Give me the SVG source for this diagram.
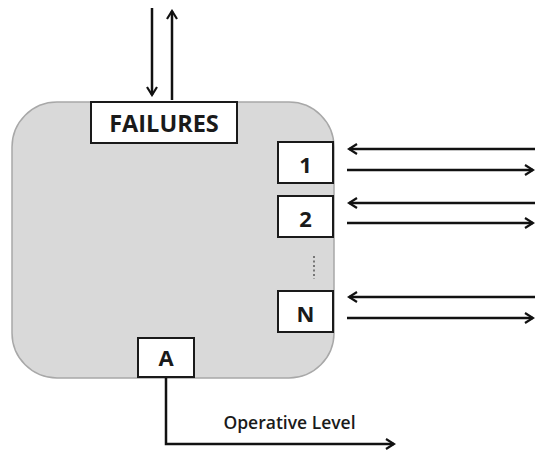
<svg xmlns="http://www.w3.org/2000/svg" width="535" height="454" viewBox="0 0 535 454">
  <style>
    .box { fill: #ffffff; stroke: #1a1a1a; stroke-width: 2; }
    .lbl { font-family: "Open Sans", "Liberation Sans", sans-serif; font-weight: bold; fill: #1a1a1a; text-anchor: middle; }
    .wire { fill: none; stroke: #111111; stroke-width: 2.5; marker-end: url(#head); }
  </style>
  <defs>
    <marker id="head" viewBox="0 0 12 12" refX="10" refY="6" markerWidth="12" markerHeight="12" markerUnits="userSpaceOnUse" orient="auto">
      <polyline points="2,1 10,6 2,11" fill="none" stroke="#111111" stroke-width="2.2"/>
    </marker>
  </defs>

  <rect width="535" height="454" fill="#ffffff"/>

  <g id="system">
    <rect x="12" y="102" width="322" height="276" rx="45" ry="45" fill="#d9d9d9" stroke="#a8a8a8" stroke-width="1.5"/>
  </g>

  <g id="connectors">
    <line class="wire" x1="152" y1="8" x2="152" y2="95"/>
    <line class="wire" x1="172" y1="100" x2="172" y2="11"/>
    <line class="wire" x1="535" y1="149" x2="349" y2="149"/>
    <line class="wire" x1="347" y1="170" x2="533" y2="170"/>
    <line class="wire" x1="535" y1="203" x2="349" y2="203"/>
    <line class="wire" x1="347" y1="223" x2="533" y2="223"/>
    <line class="wire" x1="535" y1="297" x2="349" y2="297"/>
    <line class="wire" x1="347" y1="318" x2="533" y2="318"/>
    <polyline class="wire" points="166,377 166,444 394,444"/>
    <line x1="314" y1="256" x2="314" y2="279" stroke="#555555" stroke-width="1.5" stroke-dasharray="2,2.5"/>
  </g>

  <g id="failures">
    <rect class="box" x="91" y="102" width="146" height="41"/>
    <text class="lbl" x="164" y="132" font-size="23.5">FAILURES</text>
  </g>
  <g id="port-1">
    <rect class="box" x="278" y="142" width="55" height="41"/>
    <text class="lbl" x="305.5" y="173" font-size="22">1</text>
  </g>
  <g id="port-2">
    <rect class="box" x="278" y="196" width="55" height="41"/>
    <text class="lbl" x="305.5" y="227" font-size="22">2</text>
  </g>
  <g id="port-n">
    <rect class="box" x="278" y="291" width="55" height="41"/>
    <text class="lbl" x="305.5" y="322" font-size="22">N</text>
  </g>
  <g id="port-a">
    <rect class="box" x="138" y="338" width="56" height="39"/>
    <text class="lbl" x="166" y="366" font-size="22">A</text>
  </g>

  <text x="289.5" y="429" font-family="Open Sans, Liberation Sans, sans-serif" font-size="17.5" font-weight="600" fill="#1a1a1a" text-anchor="middle">Operative Level</text>
</svg>
